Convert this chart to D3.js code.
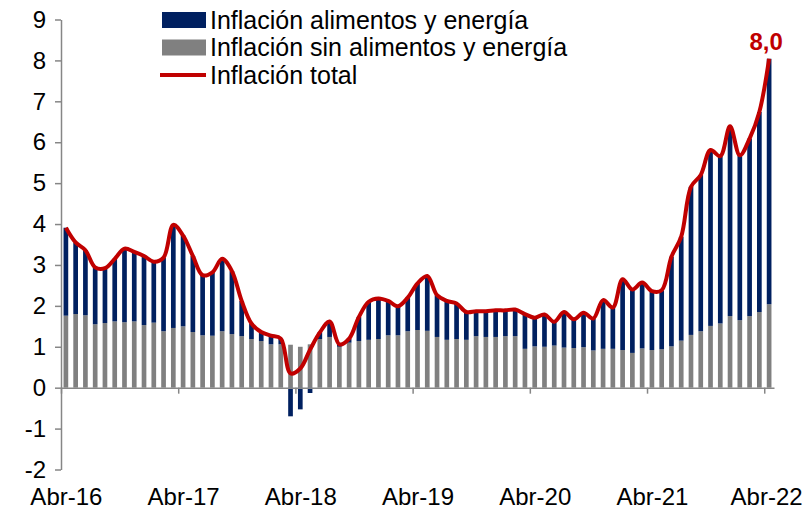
<!DOCTYPE html>
<html>
<head>
<meta charset="utf-8">
<script src="https://cdn.jsdelivr.net/npm/d3@7"></script>
<style>
  body { margin: 0; background: #fff; }
  text { font-family: "Liberation Sans", Arial, sans-serif; }
</style>
</head>
<body>
<div id="chart"></div>
<script>
// meses abr-16 .. abr-22
const months = d3.range(73);
const tickLabels = ['Abr-16', 'Abr-17', 'Abr-18', 'Abr-19', 'Abr-20', 'Abr-21', 'Abr-22'];

// inflacion sin alimentos y energia (gris)
const sinAlimEnergia = [
  1.76, 1.80, 1.77, 1.55, 1.58, 1.62, 1.60, 1.62, 1.53, 1.59, 1.38, 1.46,
  1.50, 1.36, 1.28, 1.27, 1.38, 1.31, 1.26, 1.19, 1.14, 1.06, 1.06, 1.05,
  1.00, 1.06, 1.19, 1.24, 1.00, 1.10, 1.14, 1.17, 1.19, 1.28, 1.28, 1.38,
  1.41, 1.39, 1.24, 1.17, 1.19, 1.17, 1.26, 1.24, 1.24, 1.26, 1.26, 0.95,
  1.01, 1.00, 1.03, 0.98, 0.97, 0.99, 0.91, 0.95, 0.95, 0.92, 0.85, 0.96,
  0.92, 0.94, 1.01, 1.15, 1.29, 1.38, 1.51, 1.57, 1.75, 1.65, 1.75, 1.85,
  2.04
];

// aporte alimentos y energia (azul)
const alimEnergia = [
  2.15, 1.75, 1.59, 1.39, 1.34, 1.53, 1.80, 1.70, 1.69, 1.49, 1.80, 2.52,
  2.22, 1.86, 1.47, 1.55, 1.77, 1.54, 0.86, 0.38, 0.22, 0.21, 0.14, -0.70,
  -0.53, -0.13, 0.16, 0.38, 0.06, 0.10, 0.59, 0.93, 0.99, 0.84, 0.71, 0.82,
  1.14, 1.34, 1.02, 0.95, 0.87, 0.68, 0.61, 0.63, 0.65, 0.63, 0.65, 0.85,
  0.70, 0.79, 0.58, 0.87, 0.70, 0.84, 0.78, 1.19, 1.01, 1.73, 1.55, 1.61,
  1.44, 1.44, 2.19, 2.54, 3.62, 3.82, 4.30, 4.09, 4.64, 4.03, 4.34, 4.89,
  6.00
];

// inflacion total (linea roja)
const inflTotal = [
  3.91, 3.55, 3.36, 2.94, 2.92, 3.15, 3.40, 3.32, 3.22, 3.08, 3.18, 3.98,
  3.72, 3.22, 2.75, 2.82, 3.15, 2.85, 2.12, 1.57, 1.36, 1.27, 1.20, 0.35,
  0.47, 0.93, 1.35, 1.62, 1.06, 1.20, 1.73, 2.10, 2.18, 2.12, 1.99, 2.20,
  2.55, 2.73, 2.26, 2.12, 2.06, 1.85, 1.87, 1.87, 1.89, 1.89, 1.91, 1.80,
  1.71, 1.79, 1.61, 1.85, 1.67, 1.83, 1.69, 2.14, 1.96, 2.65, 2.40, 2.57,
  2.36, 2.38, 3.20, 3.69, 4.91, 5.20, 5.81, 5.66, 6.39, 5.68, 6.09, 6.74,
  8.04
];

const yTicks = d3.range(-2, 10);
const seriesNames = ['Inflación alimentos y energía', 'Inflación sin alimentos y energía', 'Inflación total'];

const width = 809;
const height = 509;
const navy = '#002060';
const gray = '#808080';
const red = '#C00000';
const axisColor = '#868686';

const svg = d3.select('#chart')
  .append('svg')
  .attr('width', width)
  .attr('height', height);

// escalas
const x = d3.scaleBand()
  .domain(months)
  .range([61, 774])
  .paddingInner(0.52)
  .paddingOuter(0.26);

const xLin = d3.scaleLinear()
  .domain([-0.5, 72.5])
  .range([61, 774]);

const y = d3.scaleLinear()
  .domain([-2, 9])
  .range([469.5, 19.5]);

// barras grises
svg.append('g')
  .selectAll('rect')
  .data(months)
  .join('rect')
  .attr('x', i => x(i))
  .attr('width', x.bandwidth())
  .attr('y', i => y(sinAlimEnergia[i]))
  .attr('height', i => y(0) - y(sinAlimEnergia[i]))
  .attr('fill', gray);

// barras azules (apiladas; negativas desde cero)
svg.append('g')
  .selectAll('rect')
  .data(months)
  .join('rect')
  .attr('x', i => x(i))
  .attr('width', x.bandwidth())
  .attr('y', i => alimEnergia[i] >= 0 ? y(sinAlimEnergia[i] + alimEnergia[i]) : y(0))
  .attr('height', i => Math.abs(y(0) - y(alimEnergia[i])))
  .attr('fill', navy);

// eje y (guion normal en los negativos)
const yAxis = svg.append('g')
  .attr('transform', `translate(${xLin(-0.5)},0)`)
  .call(d3.axisLeft(y)
    .tickValues(yTicks)
    .tickSize(6)
    .tickPadding(9)
    .tickSizeOuter(0)
    .tickFormat(d => String(d)));
yAxis.selectAll('text').style('font-size', '24px').attr('fill', '#000');

// eje x en cero
const xAxis0 = svg.append('g')
  .attr('transform', `translate(0,${y(0)})`)
  .call(d3.axisBottom(xLin)
    .tickValues(d3.range(-0.5, 72, 12))
    .tickSize(6)
    .tickSizeOuter(0)
    .tickFormat(''));

// etiquetas abajo
const xAxisLabels = svg.append('g')
  .attr('transform', `translate(0,${y(-2)})`)
  .call(d3.axisBottom(xLin)
    .tickValues(d3.range(0, 73, 12))
    .tickSize(0)
    .tickPadding(18)
    .tickFormat((d, i) => tickLabels[i]));
xAxisLabels.select('.domain').remove();
xAxisLabels.selectAll('text').style('font-size', '24px').attr('fill', '#000');
xAxisLabels.selectAll('.tick').filter(d => d === 72).select('text').attr('dx', -3);

[yAxis, xAxis0].forEach(a => {
  a.selectAll('.domain').attr('stroke', axisColor).attr('stroke-width', 1.5);
  a.selectAll('.tick line').attr('stroke', axisColor).attr('stroke-width', 1.5);
});

// linea total
const line = d3.line()
  .x((d, i) => x(i) + x.bandwidth() / 2)
  .y(d => y(d))
  .curve(d3.curveCatmullRom.alpha(0.5));

svg.append('path')
  .datum(inflTotal)
  .attr('d', line)
  .attr('fill', 'none')
  .attr('stroke', red)
  .attr('stroke-width', 4)
  .attr('stroke-linejoin', 'round');

// etiqueta ultimo dato
const last = inflTotal.length - 1;
svg.append('text')
  .attr('x', x(last) + x.bandwidth() / 2 - 3)
  .attr('y', y(inflTotal[last]) - 9)
  .attr('text-anchor', 'middle')
  .style('font-size', '24px')
  .style('font-weight', 'bold')
  .attr('fill', red)
  .text(d3.format('.1f')(inflTotal[last]).replace('.', ','));

// leyenda
const legend = svg.append('g');
const legendRows = [
  { name: seriesNames[0], color: navy, type: 'rect' },
  { name: seriesNames[1], color: gray, type: 'rect' },
  { name: seriesNames[2], color: red, type: 'line' }
];
legendRows.forEach((r, i) => {
  const cy = 20 + i * 27.5;
  if (r.type === 'rect') {
    legend.append('rect')
      .attr('x', 162).attr('y', cy - 8)
      .attr('width', 44).attr('height', 16)
      .attr('fill', r.color);
  } else {
    legend.append('line')
      .attr('x1', 160).attr('x2', 206)
      .attr('y1', cy).attr('y2', cy)
      .attr('stroke', r.color).attr('stroke-width', 4);
  }
  legend.append('text')
    .attr('x', 210)
    .attr('y', cy)
    .attr('dy', '0.35em')
    .style('font-size', '25px')
    .text(r.name);
});
</script>
</body>
</html>
